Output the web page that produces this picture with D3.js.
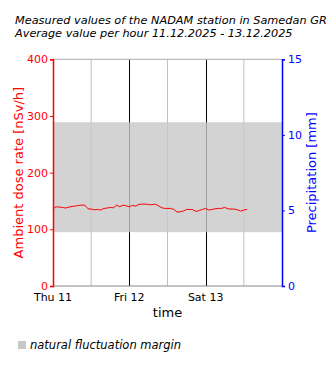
<!DOCTYPE html>
<html><head><meta charset="utf-8">
<script src="https://cdn.jsdelivr.net/npm/d3@7"></script>
<style>body{margin:0;background:#fff}svg{display:block;font-family:"DejaVu Sans",sans-serif}</style>
</head><body><svg id="c" width="330" height="370"></svg>
<script>
const titleLines = ["Measured values of the NADAM station in Samedan GR", "Average value per hour 11.12.2025 - 13.12.2025"];
const startTime = "2025-12-11T00:00:00";
const endTime = "2025-12-14T00:00:00";
const doseValues = [136.3,139.8,139.2,138.6,137.5,139.2,140.4,141,142.1,142.7,142.7,136.3,135.7,134.5,135.1,134,136.9,137.5,138.6,138,142.7,139.8,142.7,141.5,139.8,142.1,141,143.9,144.5,144.5,143.9,143.3,144.5,142.1,138.6,136.9,136.9,136.9,135.1,130.4,131,132.2,135.1,135.1,134.5,131.6,133.3,135.1,136.9,134,135.1,136.3,136.9,136.9,138.6,136.3,135.7,135.7,134.5,132.2,134,135];
const marginRange = [95, 289];
const doseTicks = [0,100,200,300,400];
const precipTicks = [0,5,10,15];
const dayLabels = ["Thu 11","Fri 12","Sat 13"];

const svg = d3.select("#c");
const m = {l:53, r:282, t:59.3, b:286};
const t0 = new Date(startTime), t1 = new Date(endTime);
const x = d3.scaleTime().domain([t0,t1]).range([m.l,m.r]);
const y = d3.scaleLinear().domain([0,400]).range([m.b,m.t]);
const y2 = d3.scaleLinear().domain([0,15]).range([m.b,m.t]);
const times = doseValues.map((v,i)=>new Date(t0.getTime()+i*3600e3));

// title
svg.selectAll("text.title").data(titleLines).enter().append("text")
  .attr("x",15).attr("y",(d,i)=>24+i*13).attr("font-size",11.3).attr("font-style","italic").text(d=>d);

// grid
const minor = d3.timeHour.every(12).range(t0,t1).filter(d=>d.getHours()===12);
const major = d3.timeDay.range(d3.timeDay.offset(t0,1),t1);
svg.append("g").selectAll("line").data(minor).enter().append("line")
  .attr("x1",d=>x(d)).attr("x2",d=>x(d)).attr("y1",m.t).attr("y2",m.b).attr("stroke","#c0c0c0");
svg.append("g").selectAll("line").data(major).enter().append("line")
  .attr("x1",d=>Math.round(x(d))+0.5).attr("x2",d=>Math.round(x(d))+0.5).attr("y1",m.t).attr("y2",m.b).attr("stroke","#000");
svg.append("line").attr("x1",m.l).attr("x2",m.r).attr("y1",m.t).attr("y2",m.t).attr("stroke","#aaa");

// band
svg.append("rect").attr("x",m.l).attr("width",m.r-m.l).attr("y",y(marginRange[1])).attr("height",y(marginRange[0])-y(marginRange[1]))
  .attr("fill","#c8c8c8").attr("opacity",0.8);

// line
svg.append("path").datum(doseValues).attr("fill","none").attr("stroke","red").attr("stroke-width",1)
  .attr("d",d3.line().x((d,i)=>x(times[i])).y(d=>y(d)));

// x axis
const xa = svg.append("g").attr("transform",`translate(0,${m.b})`);
xa.append("line").attr("x1",m.l).attr("x2",m.r).attr("stroke","#888");
xa.selectAll("text").data(d3.timeDay.range(t0,t1)).enter().append("text")
  .attr("x",d=>x(d)).attr("y",15).attr("text-anchor","middle").attr("font-size",11).text((d,i)=>dayLabels[i]);
svg.append("text").attr("x",(m.l+m.r)/2).attr("y",317).attr("text-anchor","middle").attr("font-size",13).text("time");

// left axis
const la = svg.append("g").attr("transform",`translate(${m.l},0)`)
  .call(d3.axisLeft(y).tickValues(doseTicks).tickSize(3).tickPadding(2));
la.select(".domain").attr("stroke","red").attr("stroke-width",1.5);
la.selectAll(".tick line").attr("stroke","red");
la.selectAll(".tick text").attr("fill","red").attr("font-size",11).attr("font-family","DejaVu Sans");
svg.append("text").attr("transform",`translate(23,${(m.t+m.b)/2}) rotate(-90)`).attr("text-anchor","middle")
  .attr("fill","red").attr("font-size",13).text("Ambient dose rate [nSv/h]");

// right axis
const ra = svg.append("g").attr("transform",`translate(${m.r},0)`)
  .call(d3.axisRight(y2).tickValues(precipTicks).tickSize(3).tickPadding(3));
ra.select(".domain").attr("stroke","blue").attr("stroke-width",1.5);
ra.selectAll(".tick line").attr("stroke","blue");
ra.selectAll(".tick text").attr("fill","blue").attr("font-size",11).attr("font-family","DejaVu Sans");
svg.append("text").attr("transform",`translate(316,${(m.t+m.b)/2}) rotate(-90)`).attr("text-anchor","middle")
  .attr("fill","blue").attr("font-size",13).text("Precipitation [mm]");

// legend
svg.append("rect").attr("x",18).attr("y",341).attr("width",8).attr("height",8).attr("fill","#c8c8c8");
svg.append("text").attr("x",30).attr("y",349).attr("font-size",11.5).attr("font-style","italic").text("natural fluctuation margin");
</script></body></html>
